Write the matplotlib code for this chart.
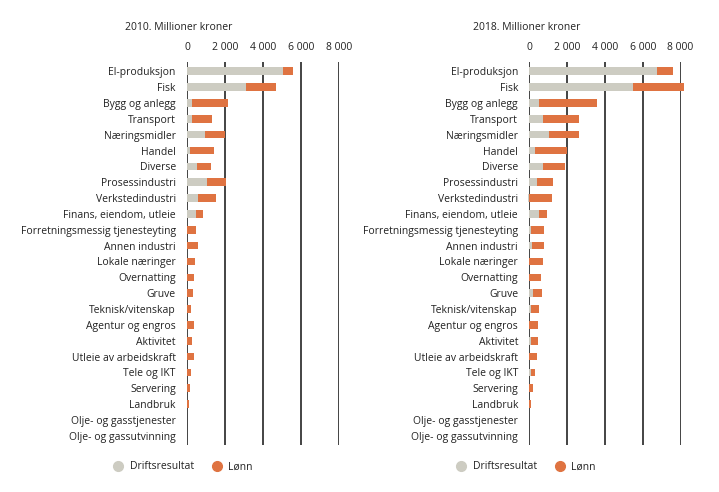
import matplotlib.pyplot as plt
from matplotlib.lines import Line2D

plt.rcParams["font.family"] = ["Open Sans", "DejaVu Sans"]

GREY = "#cdccc2"
ORANGE = "#df7341"

industries = [
    "El-produksjon", "Fisk", "Bygg og anlegg", "Transport", "Næringsmidler",
    "Handel", "Diverse", "Prosessindustri", "Verkstedindustri",
    "Finans, eiendom, utleie", "Forretningsmessig tjenesteyting",
    "Annen industri", "Lokale næringer", "Overnatting", "Gruve",
    "Teknisk/vitenskap", "Agentur og engros", "Aktivitet",
    "Utleie av arbeidskraft", "Tele og IKT", "Servering", "Landbruk",
    "Olje- og gasstjenester", "Olje- og gassutvinning",
]

# millioner kroner
drift_2010 = [5030, 3090, 250, 250, 930, 140, 510, 1040, 560, 460, 0,
              0, 0, 0, 0, 0, 0, 0, 0, 0, 0, 0, 0, 0]
lonn_2010 = [530, 1580, 1890, 1050, 1090, 1260, 740, 1000, 950, 360, 460,
             560, 400, 350, 300, 190, 350, 250, 350, 190, 140, 90, 0, 0]

drift_2018 = [6770, 5510, 510, 720, 1040, 300, 720, 400, -70, 510, 90,
              140, 0, 0, 190, 90, 0, 90, 0, 90, 0, 0, 0, 0]
lonn_2018 = [840, 2680, 3050, 1890, 1570, 1680, 1160, 850, 1190, 420, 680,
             630, 720, 610, 480, 420, 460, 370, 400, 210, 190, 90, 0, 0]

xticks = [0, 2000, 4000, 6000, 8000]
xticklabels = ["0", "2 000", "4 000", "6 000", "8 000"]


def draw_panel(ax, drift, lonn):
    y = list(range(len(industries)))
    b1 = ax.barh(y, drift, height=0.48, color=GREY, zorder=2)
    start = [max(d, 0) for d in drift]
    b2 = ax.barh(y, lonn, left=start, height=0.48, color=ORANGE, zorder=2)
    for p in list(b1) + list(b2):
        p.set_clip_on(False)
    ax.set_yticks(y)
    ax.set_yticklabels(industries, fontsize=7.5, color="#222222")
    ax.set_ylim(23.58, -0.6)
    ax.set_xlim(0, 8000)
    ax.set_xticks(xticks)
    ax.set_xticklabels(xticklabels, fontsize=7.5, color="#222222")
    ax.xaxis.tick_top()
    ax.tick_params(length=0, pad=6)
    ax.tick_params(axis="y", pad=8)
    for s in ax.spines.values():
        s.set_visible(False)
    ax.set_axisbelow(True)
    ax.grid(axis="x", color="#1a1a1a", linewidth=1.15, zorder=1)


fig = plt.figure(figsize=(7.19, 4.92), dpi=100)
ax1 = fig.add_axes([0.260, 0.0955, 0.2114, 0.779])
ax2 = fig.add_axes([0.736, 0.0955, 0.2106, 0.779])
draw_panel(ax1, drift_2010, lonn_2010)
draw_panel(ax2, drift_2018, lonn_2018)

fig.text(0.249, 0.945, "2010. Millioner kroner", ha="center", va="center",
         fontsize=7.5, color="#222222")
fig.text(0.733, 0.945, "2018. Millioner kroner", ha="center", va="center",
         fontsize=7.5, color="#222222")

handles = [
    Line2D([], [], marker="o", linestyle="", markersize=7, color=GREY),
    Line2D([], [], marker="o", linestyle="", markersize=7, color=ORANGE),
]
for cx in (0.251, 0.728):
    fig.legend(handles, ["Driftsresultat", "Lønn"], loc="center",
               bbox_to_anchor=(cx, 0.051), ncol=2, frameon=False,
               fontsize=7.5, handletextpad=0.1, columnspacing=1.2,
               labelcolor="#222222")

fig.savefig("out.png", dpi=100)
